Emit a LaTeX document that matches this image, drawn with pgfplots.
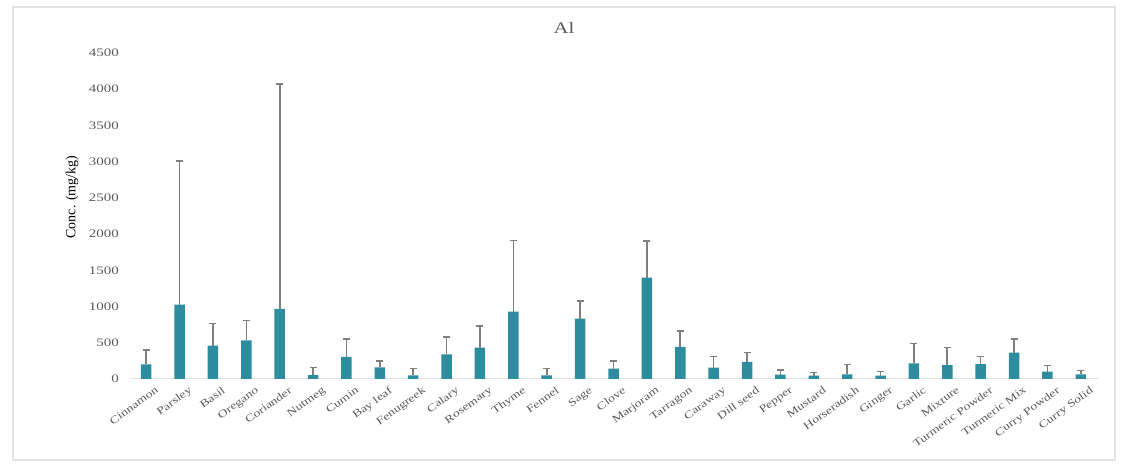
\documentclass[border=0pt]{standalone}
\usepackage{fontspec}
\setmainfont{Liberation Serif}
\newfontfamily\lblfont[FakeStretch=1.3]{Liberation Serif}
\usepackage{pgfplots}
\pgfplotsset{compat=1.18}
\definecolor{barteal}{HTML}{2E8C9F}
\definecolor{txtgray}{HTML}{595959}
\definecolor{errgray}{HTML}{7F7F7F}
\definecolor{framegray}{HTML}{E3E3E3}

\begin{document}
\begin{tikzpicture}
\path (0pt,0pt) rectangle (1128pt,471pt);
\draw[framegray, line width=1.3pt] (13pt,11pt) rectangle (1115pt,464pt);
\node[text=txtgray, font=\fontsize{16}{18}\lblfont] at (564pt,443pt) {Al};
\begin{axis}[
    at={(129.5pt,92pt)}, anchor=south west,
    scale only axis,
    width=968pt, height=326pt,
    xmin=-0.5, xmax=28.5,
    ymin=0, ymax=4500,
    ytick={0,500,...,4500},
    xtick={0,1,...,28},
    xticklabels={Cinnamon,Parsley,Basil,Oregano,Coriander,Nutmeg,Cumin,Bay leaf,Fenugreek,Calary,Rosemary,Thyme,Fennel,Sage,Clove,Marjoram,Tarragon,Caraway,Dill seed,Pepper,Mustard,Horseradish,Ginger,Garlic,Mixture,Turmeric Powder,Turmeric Mix,Curry Powder,Curry Solid},
    axis x line*=bottom, axis y line*=left,
    x axis line style={draw=framegray, line width=1pt},
    y axis line style={draw=none},
    tick style={draw=none},
    major tick length=0pt,
    /pgf/number format/assume math mode=true,
    /pgf/number format/1000 sep={},
    yticklabel style={font=\fontsize{11.5}{13}\lblfont, text=txtgray, anchor=east, inner sep=0pt, xshift=-10.5pt},
    xticklabel style={font=\fontsize{10.5}{13}\lblfont, text=txtgray, rotate=36, anchor=north east, inner sep=0pt, xshift=3pt, yshift=-10.5pt},
    ylabel={Conc. (mg/kg)},
    ylabel style={font=\fontsize{14}{16}\selectfont, text=black, at={(axis description cs:-0.0594,0.558)}, anchor=center},
]
\addplot[ybar, bar width=10.5pt, fill=barteal, draw=none,
    error bars/.cd, y dir=plus, y explicit,
    error bar style={draw=errgray, line width=1.6pt},
    error mark options={rotate=90, draw=errgray, mark size=3.5pt, line width=1.6pt}]
coordinates {
    (0,203) +- (0,197)
    (1,1026) +- (0,1984)
    (2,460) +- (0,304)
    (3,534) +- (0,276)
    (4,967) +- (0,3103)
    (5,55) +- (0,101)
    (6,304) +- (0,248)
    (7,161) +- (0,87)
    (8,51) +- (0,92)
    (9,341) +- (0,239)
    (10,433) +- (0,299)
    (11,930) +- (0,980)
    (12,51) +- (0,92)
    (13,833) +- (0,244)
    (14,143) +- (0,105)
    (15,1399) +- (0,502)
    (16,442) +- (0,221)
    (17,156) +- (0,152)
    (18,235) +- (0,133)
    (19,60) +- (0,64)
    (20,46) +- (0,46)
    (21,65) +- (0,133)
    (22,46) +- (0,55)
    (23,216) +- (0,272)
    (24,193) +- (0,244)
    (25,207) +- (0,106)
    (26,364) +- (0,188)
    (27,101) +- (0,83)
    (28,65) +- (0,55)
};
\end{axis}
\end{tikzpicture}
\end{document}
